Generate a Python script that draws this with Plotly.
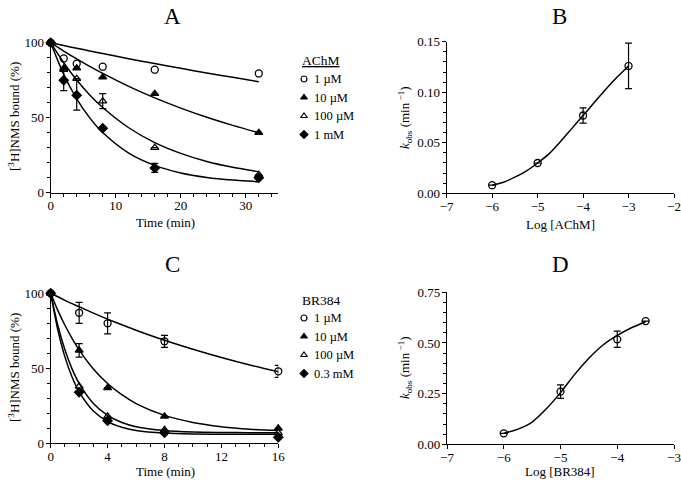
import plotly.graph_objects as go

# ---------------- data ----------------
# Panel A: AChM
tA = [0, 2, 4, 8, 16, 32]
A_1uM = [100, 89.5, 86, 84, 82, 79.5]
A_10uM = [100, 83, 83, 77, 66, 40]
A_100uM = [100, 82, 76, 61, 30, 12]
A_100uM_err = [0, 0, 0, 5, 0, 0]
A_1mM = [100, 75, 65, 43, 16.5, 10]
A_1mM_err = [0, 7, 10, 0, 3, 0]

tA_fit = [0, 2, 4, 6, 8, 12, 16, 20, 24, 28, 32]
A_1uM_fit = [100, 98.1, 96.3, 94.5, 92.8, 89.3, 86.1, 82.9, 79.8, 76.9, 74.0]
A_10uM_fit = [100, 94.4, 89.2, 84.2, 79.5, 70.9, 63.2, 56.4, 50.3, 44.9, 40.0]
A_100uM_fit = [100, 86.6, 75.1, 65.2, 56.8, 43.3, 33.4, 26.2, 20.8, 16.9, 14.0]
A_1mM_fit = [100, 78.9, 62.6, 49.9, 40.1, 26.4, 18.2, 13.2, 10.2, 8.4, 7.3]

# Panel C: BR384
tC = [0, 2, 4, 8, 16]
C_1uM = [100, 87, 80, 68, 48]
C_1uM_err = [0, 7, 7, 4, 4]
C_10uM = [100, 62, 37, 18, 10]
C_10uM_err = [0, 4.5, 0, 0, 0]
C_100uM = [100, 38, 18, 9, 7]
C_03mM = [100, 34, 15, 7, 4]

tC_fit = [0, 0.5, 1, 1.5, 2, 3, 4, 5, 6, 8, 10, 12, 14, 16]
C_1uM_fit = [100, 97.7, 95.3, 93.1, 91.0, 86.8, 82.8, 79.0, 75.4, 68.7, 62.7, 57.2, 52.2, 47.7]
C_10uM_fit = [100, 88.6, 78.7, 70.0, 62.3, 49.6, 39.9, 32.4, 26.5, 18.6, 13.9, 11.1, 9.4, 8.5]
C_100uM_fit = [100, 78.7, 62.3, 49.6, 39.9, 26.5, 18.6, 13.9, 11.1, 8.5, 7.5, 7.2, 7.1, 7.0]
C_03mM_fit = [100, 75.7, 57.6, 44.2, 34.3, 21.5, 14.5, 10.7, 8.6, 6.8, 6.2, 6.1, 6.0, 6.0]

# Panel B: kobs vs log[AChM]
logB = [-6, -5, -4, -3]
kB = [0.008, 0.030, 0.077, 0.126]
kB_err = [0, 0, 0.0075, 0.0225]
logB_fit = [-6, -5.75, -5.5, -5.25, -5, -4.75, -4.5, -4.25, -4, -3.75, -3.5, -3.25, -3]
kB_fit = [0.008, 0.011, 0.016, 0.022, 0.030, 0.039, 0.051, 0.064, 0.077, 0.090, 0.103, 0.115, 0.126]

# Panel D: kobs vs log[BR384]
logD = [-6, -5, -4, -3.5]
kD = [0.054, 0.26, 0.518, 0.608]
kD_err = [0, 0.033, 0.04, 0]
logD_fit = [-6, -5.75, -5.5, -5.25, -5, -4.75, -4.5, -4.25, -4, -3.75, -3.5]
kD_fit = [0.054, 0.075, 0.11, 0.175, 0.255, 0.345, 0.425, 0.49, 0.537, 0.575, 0.605]

legendA = ["1 µM", "10 µM", "100 µM", "1 mM"]
legendC = ["1 µM", "10 µM", "100 µM", "0.3 mM"]
symbols = ["circle-open", "triangle-up", "triangle-up-open", "diamond"]

FONT = "Liberation Serif"
W, H = 681, 482

fig = go.Figure()

def px_dom_x(a, b):
    return [a / W, b / W]

def px_dom_y(top, bottom):
    return [(H - bottom) / H, (H - top) / H]

def add_fit(x, y, xa, ya):
    fig.add_trace(go.Scatter(x=x, y=y, mode="lines",
                             line=dict(color="black", width=1.5, shape="spline", smoothing=0.8),
                             xaxis=xa, yaxis=ya, showlegend=False, hoverinfo="skip"))

def add_pts(x, y, sym, xa, ya, err=None, size=7):
    kw = {}
    if err is not None:
        kw["error_y"] = dict(type="data", array=err, visible=True, color="black", thickness=1.2, width=3.5)
    fig.add_trace(go.Scatter(x=x, y=y, mode="markers",
                             marker=dict(symbol=sym, size=size, color="black",
                                         line=dict(color="black", width=1.3)),
                             xaxis=xa, yaxis=ya, showlegend=False, cliponaxis=False, **kw))

# Panel A
for fy in [A_1uM_fit, A_10uM_fit, A_100uM_fit, A_1mM_fit]:
    add_fit(tA_fit, fy, "x", "y")
add_pts(tA, A_1uM, symbols[0], "x", "y")
add_pts(tA, A_10uM, symbols[1], "x", "y")
add_pts(tA, A_100uM, symbols[2], "x", "y", A_100uM_err)
add_pts(tA, A_1mM, symbols[3], "x", "y", A_1mM_err)

# Panel B
add_fit(logB_fit, kB_fit, "x2", "y2")
add_pts(logB, kB, "circle-open", "x2", "y2", kB_err)

# Panel C
for fy in [C_1uM_fit, C_10uM_fit, C_100uM_fit, C_03mM_fit]:
    add_fit(tC_fit, fy, "x3", "y3")
add_pts(tC, C_1uM, symbols[0], "x3", "y3", C_1uM_err)
add_pts(tC, C_10uM, symbols[1], "x3", "y3", C_10uM_err)
add_pts(tC, C_100uM, symbols[2], "x3", "y3")
add_pts(tC, C_03mM, symbols[3], "x3", "y3")

# Panel D
add_fit(logD_fit, kD_fit, "x4", "y4")
add_pts(logD, kD, "circle-open", "x4", "y4", kD_err)

# Legend symbols on pixel overlay
leg_y_A = [79, 97.5, 116, 134.5]
leg_y_C = [318, 336.5, 355, 373.5]
for i, s in enumerate(symbols):
    for ly in (leg_y_A[i], leg_y_C[i]):
        fig.add_trace(go.Scatter(x=[304], y=[ly], mode="markers",
                                 marker=dict(symbol=s, size=6, color="black", line=dict(color="black", width=1.2)),
                                 xaxis="x5", yaxis="y5", showlegend=False, hoverinfo="skip", cliponaxis=False))

def axis(dom, rng, tickvals, minor_dtick=None, fmt=None, is_x=True):
    d = dict(domain=dom, range=rng, tickvals=tickvals, showline=True, linecolor="black", linewidth=1.3,
             ticks="outside", ticklen=4, tickwidth=1.3, tickcolor="black", showgrid=False, zeroline=False,
             tickfont=dict(family=FONT, size=13, color="black"), fixedrange=True, automargin=False,
             ticklabelstandoff=-3 if is_x else -1)
    if fmt:
        d["tickformat"] = fmt
    if minor_dtick:
        d["minor"] = dict(dtick=minor_dtick, ticks="outside", ticklen=3, tickwidth=1, tickcolor="black", showgrid=False)
    return d

xA = axis(px_dom_x(50.7, 278.3), [0, 35], [0, 10, 20, 30], 2)
yA = axis(px_dom_y(42.7, 192.7), [0, 100], [0, 50, 100], 10, is_x=False)
xB = axis(px_dom_x(446.7, 674), [-7, -2], [-7, -6, -5, -4, -3, -2])
yB = axis(px_dom_y(41.7, 193.3), [0, 0.15], [0, 0.05, 0.10, 0.15], 0.01, ".2f", is_x=False)
xC = axis(px_dom_x(50.7, 278.3), [0, 16], [0, 4, 8, 12, 16], 1)
yC = axis(px_dom_y(293.3, 443.3), [0, 100], [0, 50, 100], 10, is_x=False)
xD = axis(px_dom_x(447, 674), [-7, -3], [-7, -6, -5, -4, -3])
yD = axis(px_dom_y(292.3, 444.3), [0, 0.75], [0, 0.25, 0.5, 0.75], 0.05, ".2f", is_x=False)

xA["anchor"] = "y"; yA["anchor"] = "x"
xB["anchor"] = "y2"; yB["anchor"] = "x2"
xC["anchor"] = "y3"; yC["anchor"] = "x3"
xD["anchor"] = "y4"; yD["anchor"] = "x4"

anns = []
def txt(x, y, t, size=13, xanchor="center", angle=0):
    anns.append(dict(x=x, y=y, xref="x5", yref="y5", text=t, showarrow=False, xanchor=xanchor, yanchor="middle",
                     textangle=angle, font=dict(family=FONT, size=size, color="black")))

txt(172, 16, "A", 23)
txt(559, 16, "B", 23)
txt(172, 264, "C", 23)
txt(560, 264, "D", 23)
txt(14, 117, "[<sup>3</sup>H]NMS bound (%)", 13, angle=-90)
txt(14, 368, "[<sup>3</sup>H]NMS bound (%)", 13, angle=-90)
txt(165, 222, "Time (min)", 13)
txt(165, 471, "Time (min)", 13)
txt(560, 224, "Log [AChM]", 13)
txt(560, 471, "Log [BR384]", 13)
txt(405, 118, "<i>k</i><sub>obs</sub> (min<sup> −1</sup>)", 13, angle=-90)
txt(405, 368, "<i>k</i><sub>obs</sub> (min<sup> −1</sup>)", 13, angle=-90)
txt(300, 60, "<u>AChM</u>", 13.5, xanchor="left")
txt(300, 300, "BR384", 13.5, xanchor="left")
for i in range(4):
    txt(312, leg_y_A[i], legendA[i], 12.5, xanchor="left")
    txt(312, leg_y_C[i], legendC[i], 12.5, xanchor="left")

fig.update_layout(
    width=W, height=H, margin=dict(l=0, r=0, t=0, b=0, pad=0, autoexpand=False),
    paper_bgcolor="white", plot_bgcolor="rgba(0,0,0,0)",
    font=dict(family=FONT, color="black"),
    showlegend=False,
    xaxis=xA, yaxis=yA, xaxis2=xB, yaxis2=yB, xaxis3=xC, yaxis3=yC, xaxis4=xD, yaxis4=yD,
    xaxis5=dict(domain=[0, 1], range=[0, W], visible=False, fixedrange=True, anchor="y5"),
    yaxis5=dict(domain=[0, 1], range=[H, 0], visible=False, fixedrange=True, anchor="x5"),
    annotations=anns,
)

fig.write_html("out.html", config={"displayModeBar": False},
               post_script="document.body.style.margin='0';document.body.style.overflow='hidden';")
